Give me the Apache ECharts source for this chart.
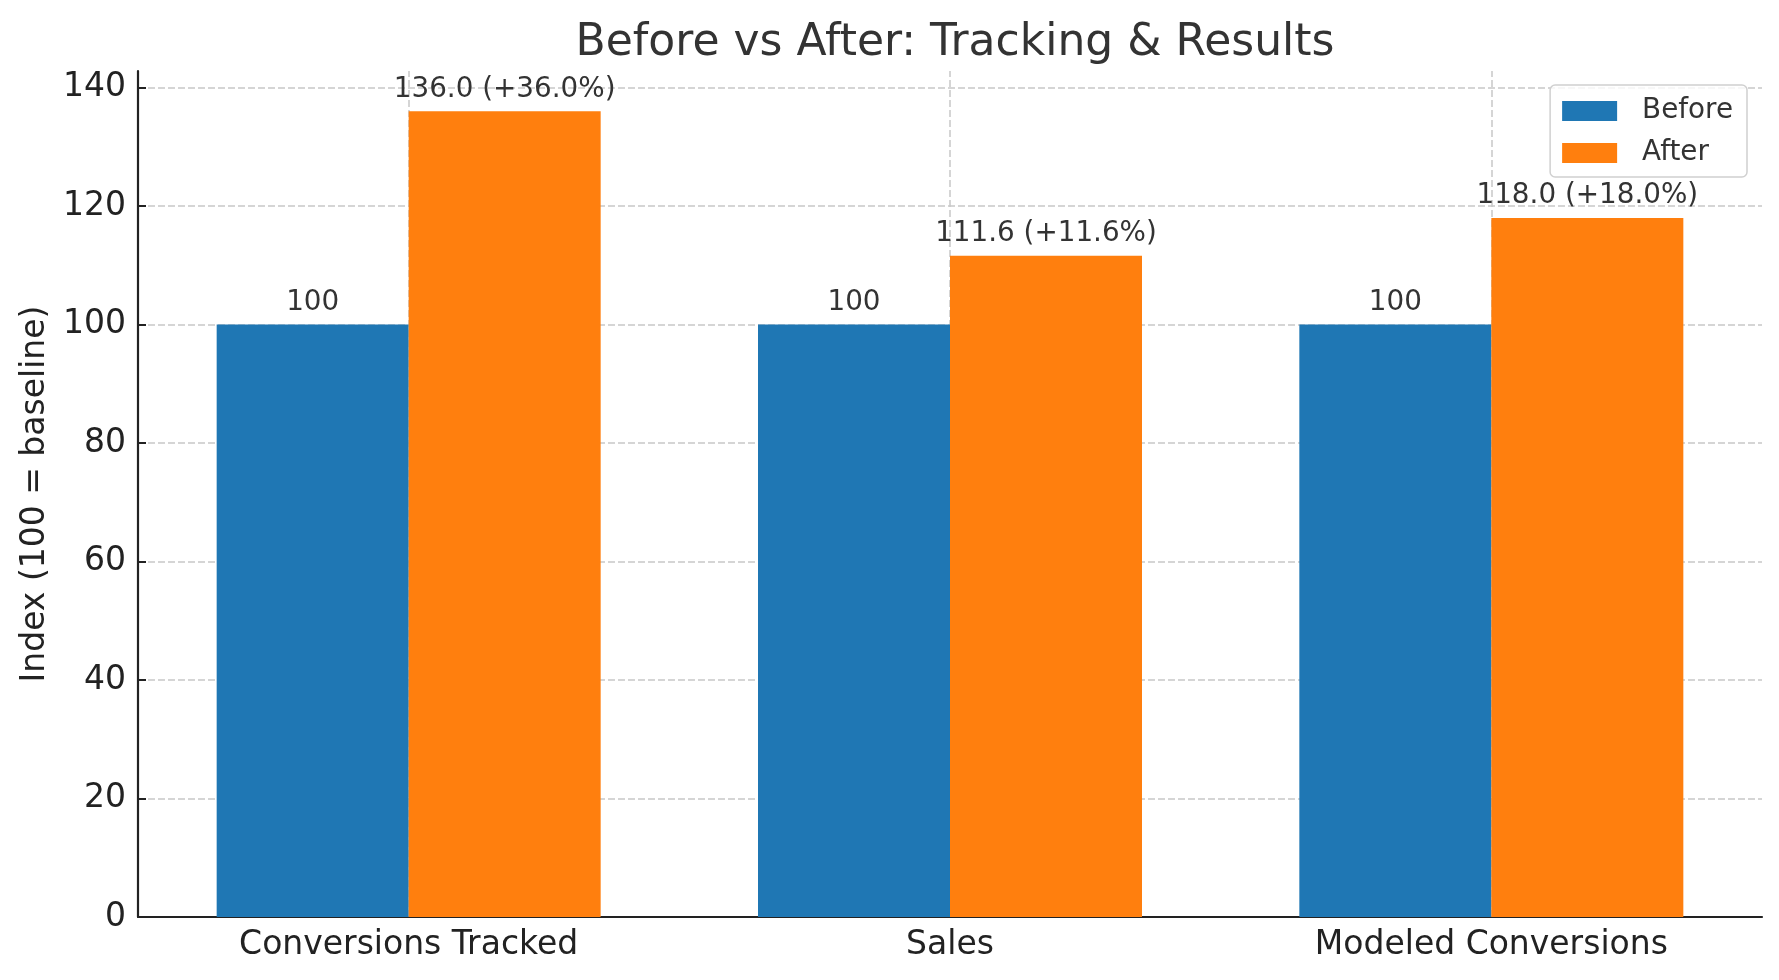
<!DOCTYPE html>
<html>
<head>
<meta charset="utf-8">
<script src="https://cdn.jsdelivr.net/npm/echarts@6/dist/echarts.min.js"></script>
<style>
  html, body { margin: 0; padding: 0; background: #fff; }
  #chart { width: 1779px; height: 980px; }
</style>
</head>
<body>
<div id="chart"></div>
<script>
// categories and index values (100 = baseline)
const categories = ['Conversions Tracked', 'Sales', 'Modeled Conversions']
const beforeVals = [100, 100, 100]
const afterVals = [136.0, 111.6, 118.0]
const yMax = 142.8

const font = 'DejaVu Sans'
const gridLine = { color: '#c8c8c8', width: 1.5, type: [7, 3] }
const chart = echarts.init(document.getElementById('chart'))

chart.setOption({
  backgroundColor: '#fff',
  animation: false,
  title: {
    text: 'Before vs After: Tracking & Results',
    left: 950,
    textAlign: 'center',
    top: 17,
    textStyle: { fontFamily: font, fontSize: 44, fontWeight: 'normal', color: '#333' }
  },
  legend: {
    data: ['Before', 'After'],
    orient: 'vertical',
    right: 32,
    top: 85,
    padding: [12, 14, 10, 12],
    itemGap: 14,
    itemWidth: 55,
    itemHeight: 20,
    icon: 'rect',
    backgroundColor: 'rgba(255,255,255,0.8)',
    borderColor: '#d0d0d0',
    borderWidth: 1.5,
    borderRadius: 5,
    textStyle: { fontFamily: font, fontSize: 27.8, color: '#333', padding: [0, 0, 0, 20] }
  },
  grid: { left: 138, right: 17, top: 71, bottom: 63 },
  xAxis: {
    type: 'category',
    data: categories,
    axisLine: { lineStyle: { color: '#222', width: 2.2 } },
    axisTick: { inside: true, alignWithLabel: true, length: 9, lineStyle: { color: '#222', width: 2 } },
    axisLabel: { fontFamily: font, fontSize: 33, color: '#222', margin: 12 },
    splitLine: { show: false }
  },
  yAxis: {
    type: 'value',
    min: 0,
    max: yMax,
    interval: 20,
    name: 'Index (100 = baseline)',
    nameLocation: 'middle',
    nameGap: 84,
    nameTextStyle: { fontFamily: font, fontSize: 33, color: '#222' },
    axisLine: { show: true, lineStyle: { color: '#222', width: 2.2 } },
    axisTick: { show: true, inside: true, length: 8, lineStyle: { color: '#222', width: 2 } },
    axisLabel: { fontFamily: font, fontSize: 33, color: '#222', margin: 12, showMaxLabel: false },
    splitLine: { show: true, showMaxLine: false, lineStyle: gridLine }
  },
  series: [{
    // vertical grid lines at category centres, behind the bars
    name: 'grid',
    type: 'line',
    data: [],
    z: 1,
    silent: true,
    markLine: {
      silent: true,
      symbol: 'none',
      z: 1,
      label: { show: false },
      lineStyle: gridLine,
      data: categories.map(c => ({ xAxis: c }))
    }
  }, {
    name: 'Before',
    type: 'bar',
    data: beforeVals,
    barWidth: 192,
    barGap: '0%',
    z: 2,
    itemStyle: { color: '#1f77b4' },
    label: {
      show: true,
      position: 'top',
      distance: 8,
      fontFamily: font,
      fontSize: 27.8,
      color: '#333',
      formatter: p => String(p.value)
    }
  }, {
    name: 'After',
    type: 'bar',
    data: afterVals,
    barWidth: 192,
    barGap: '0%',
    z: 2,
    itemStyle: { color: '#ff7f0e' },
    label: {
      show: true,
      position: 'top',
      distance: 8,
      fontFamily: font,
      fontSize: 27.8,
      color: '#333',
      formatter: p => {
        const b = beforeVals[p.dataIndex]
        const pct = (p.value / b - 1) * 100
        return p.value.toFixed(1) + ' (+' + pct.toFixed(1) + '%)'
      }
    }
  }]
})
</script>
</body>
</html>
